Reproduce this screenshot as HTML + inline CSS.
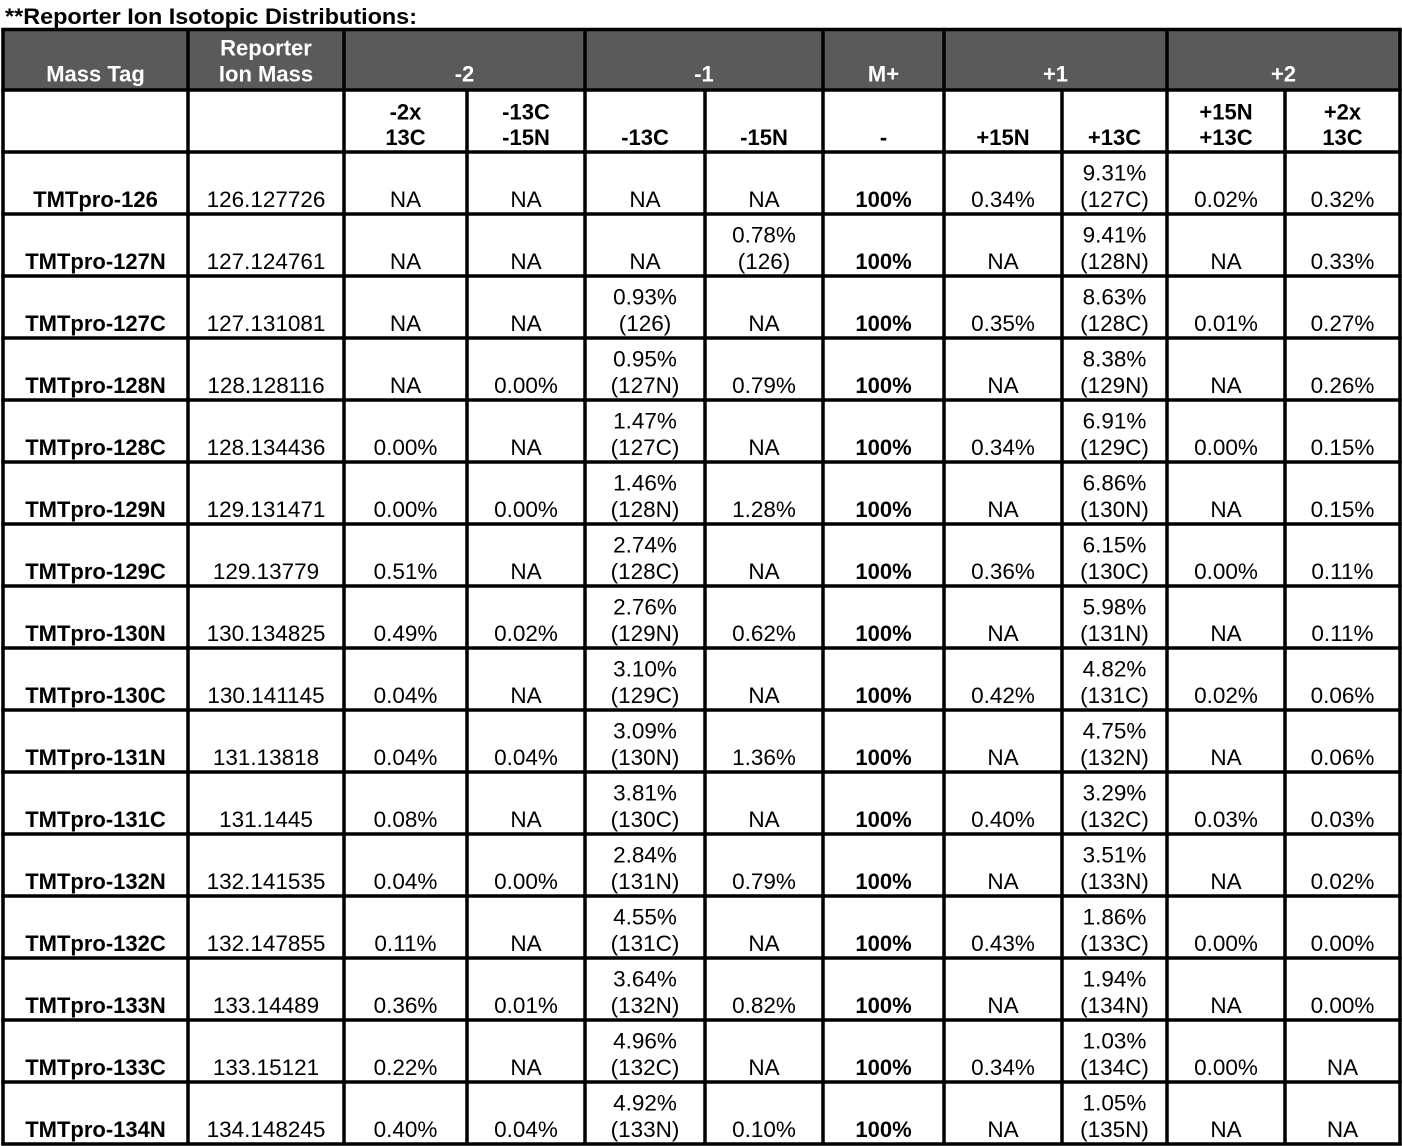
<!DOCTYPE html>
<html>
<head>
<meta charset="utf-8">
<style>
html,body{margin:0;padding:0;background:#fff;}
svg{display:block;}
svg text{font-family:"Liberation Sans",Arial,sans-serif;font-size:22.5px;text-anchor:middle;fill:#000;}
svg text.b{font-weight:bold;font-size:22px;}
svg text.h{font-weight:bold;font-size:22px;fill:#fff;}
svg text.t{font-weight:bold;font-size:22.5px;text-anchor:start;}
</style>
</head>
<body>
<svg width="1402" height="1146" viewBox="0 0 1402 1146" xmlns="http://www.w3.org/2000/svg">
<rect x="0" y="0" width="1402" height="1146" fill="#fff"/>
<text class="t" x="5" y="24" textLength="412" lengthAdjust="spacingAndGlyphs">**Reporter Ion Isotopic Distributions:</text>
<rect x="3" y="29.5" width="1397" height="60.5" fill="#5a5a5a"/>

<!-- grid lines -->
<g stroke="#000" stroke-width="3.5" fill="none">
<path d="M1.25 29.5H1401.75M1.25 90H1401.75M1.25 152H1401.75M1.25 214H1401.75M1.25 276H1401.75M1.25 338H1401.75M1.25 400H1401.75M1.25 462H1401.75M1.25 524H1401.75M1.25 586H1401.75M1.25 648H1401.75M1.25 710H1401.75M1.25 772H1401.75M1.25 834H1401.75M1.25 896H1401.75M1.25 958H1401.75M1.25 1020H1401.75M1.25 1082H1401.75M1.25 1144H1401.75"/>
<path d="M3 29.5V1145.5M188 29.5V1145.5M344 29.5V1145.5M585 29.5V1145.5M823 29.5V1145.5M944 29.5V1145.5M1167 29.5V1145.5M1400 29.5V1145.5"/>
<path d="M467 90V1145.5M705 90V1145.5M1062 90V1145.5M1285 90V1145.5"/>
</g>

<!-- header -->
<text class="h" x="95.5" y="81.5">Mass Tag</text>
<text class="h" x="266" y="55.5">Reporter</text>
<text class="h" x="266" y="81.5">Ion Mass</text>
<text class="h" x="464.5" y="81.5">-2</text>
<text class="h" x="704" y="81.5">-1</text>
<text class="h" x="883.5" y="81.5">M+</text>
<text class="h" x="1055.5" y="81.5">+1</text>
<text class="h" x="1283.5" y="81.5">+2</text>

<!-- subheader -->
<text class="b" x="405.5" y="119.5">-2x</text>
<text class="b" x="405.5" y="145">13C</text>
<text class="b" x="526" y="119.5">-13C</text>
<text class="b" x="526" y="145">-15N</text>
<text class="b" x="645" y="145">-13C</text>
<text class="b" x="764" y="145">-15N</text>
<text class="b" x="883.5" y="145">-</text>
<text class="b" x="1003" y="145">+15N</text>
<text class="b" x="1114.5" y="145">+13C</text>
<text class="b" x="1226" y="119.5">+15N</text>
<text class="b" x="1226" y="145">+13C</text>
<text class="b" x="1342.5" y="119.5">+2x</text>
<text class="b" x="1342.5" y="145">13C</text>

<!-- row 1 -->
<g transform="translate(0,0)">
<text class="b" x="95.5" y="207">TMTpro-126</text>
<text x="266" y="207">126.127726</text>
<text x="405.5" y="207">NA</text>
<text x="526" y="207">NA</text>
<text x="645" y="207">NA</text>
<text x="764" y="207">NA</text>
<text class="b" x="883.5" y="207">100%</text>
<text x="1003" y="207">0.34%</text>
<text x="1114.5" y="180.5">9.31%</text>
<text x="1114.5" y="207">(127C)</text>
<text x="1226" y="207">0.02%</text>
<text x="1342.5" y="207">0.32%</text>
</g>

<!-- row 2 -->
<g transform="translate(0,62)">
<text class="b" x="95.5" y="207">TMTpro-127N</text>
<text x="266" y="207">127.124761</text>
<text x="405.5" y="207">NA</text>
<text x="526" y="207">NA</text>
<text x="645" y="207">NA</text>
<text x="764" y="180.5">0.78%</text>
<text x="764" y="207">(126)</text>
<text class="b" x="883.5" y="207">100%</text>
<text x="1003" y="207">NA</text>
<text x="1114.5" y="180.5">9.41%</text>
<text x="1114.5" y="207">(128N)</text>
<text x="1226" y="207">NA</text>
<text x="1342.5" y="207">0.33%</text>
</g>

<!-- row 3 -->
<g transform="translate(0,124)">
<text class="b" x="95.5" y="207">TMTpro-127C</text>
<text x="266" y="207">127.131081</text>
<text x="405.5" y="207">NA</text>
<text x="526" y="207">NA</text>
<text x="645" y="180.5">0.93%</text>
<text x="645" y="207">(126)</text>
<text x="764" y="207">NA</text>
<text class="b" x="883.5" y="207">100%</text>
<text x="1003" y="207">0.35%</text>
<text x="1114.5" y="180.5">8.63%</text>
<text x="1114.5" y="207">(128C)</text>
<text x="1226" y="207">0.01%</text>
<text x="1342.5" y="207">0.27%</text>
</g>

<!-- row 4 -->
<g transform="translate(0,186)">
<text class="b" x="95.5" y="207">TMTpro-128N</text>
<text x="266" y="207">128.128116</text>
<text x="405.5" y="207">NA</text>
<text x="526" y="207">0.00%</text>
<text x="645" y="180.5">0.95%</text>
<text x="645" y="207">(127N)</text>
<text x="764" y="207">0.79%</text>
<text class="b" x="883.5" y="207">100%</text>
<text x="1003" y="207">NA</text>
<text x="1114.5" y="180.5">8.38%</text>
<text x="1114.5" y="207">(129N)</text>
<text x="1226" y="207">NA</text>
<text x="1342.5" y="207">0.26%</text>
</g>

<!-- row 5 -->
<g transform="translate(0,248)">
<text class="b" x="95.5" y="207">TMTpro-128C</text>
<text x="266" y="207">128.134436</text>
<text x="405.5" y="207">0.00%</text>
<text x="526" y="207">NA</text>
<text x="645" y="180.5">1.47%</text>
<text x="645" y="207">(127C)</text>
<text x="764" y="207">NA</text>
<text class="b" x="883.5" y="207">100%</text>
<text x="1003" y="207">0.34%</text>
<text x="1114.5" y="180.5">6.91%</text>
<text x="1114.5" y="207">(129C)</text>
<text x="1226" y="207">0.00%</text>
<text x="1342.5" y="207">0.15%</text>
</g>

<!-- row 6 -->
<g transform="translate(0,310)">
<text class="b" x="95.5" y="207">TMTpro-129N</text>
<text x="266" y="207">129.131471</text>
<text x="405.5" y="207">0.00%</text>
<text x="526" y="207">0.00%</text>
<text x="645" y="180.5">1.46%</text>
<text x="645" y="207">(128N)</text>
<text x="764" y="207">1.28%</text>
<text class="b" x="883.5" y="207">100%</text>
<text x="1003" y="207">NA</text>
<text x="1114.5" y="180.5">6.86%</text>
<text x="1114.5" y="207">(130N)</text>
<text x="1226" y="207">NA</text>
<text x="1342.5" y="207">0.15%</text>
</g>

<!-- row 7 -->
<g transform="translate(0,372)">
<text class="b" x="95.5" y="207">TMTpro-129C</text>
<text x="266" y="207">129.13779</text>
<text x="405.5" y="207">0.51%</text>
<text x="526" y="207">NA</text>
<text x="645" y="180.5">2.74%</text>
<text x="645" y="207">(128C)</text>
<text x="764" y="207">NA</text>
<text class="b" x="883.5" y="207">100%</text>
<text x="1003" y="207">0.36%</text>
<text x="1114.5" y="180.5">6.15%</text>
<text x="1114.5" y="207">(130C)</text>
<text x="1226" y="207">0.00%</text>
<text x="1342.5" y="207">0.11%</text>
</g>

<!-- row 8 -->
<g transform="translate(0,434)">
<text class="b" x="95.5" y="207">TMTpro-130N</text>
<text x="266" y="207">130.134825</text>
<text x="405.5" y="207">0.49%</text>
<text x="526" y="207">0.02%</text>
<text x="645" y="180.5">2.76%</text>
<text x="645" y="207">(129N)</text>
<text x="764" y="207">0.62%</text>
<text class="b" x="883.5" y="207">100%</text>
<text x="1003" y="207">NA</text>
<text x="1114.5" y="180.5">5.98%</text>
<text x="1114.5" y="207">(131N)</text>
<text x="1226" y="207">NA</text>
<text x="1342.5" y="207">0.11%</text>
</g>

<!-- row 9 -->
<g transform="translate(0,496)">
<text class="b" x="95.5" y="207">TMTpro-130C</text>
<text x="266" y="207">130.141145</text>
<text x="405.5" y="207">0.04%</text>
<text x="526" y="207">NA</text>
<text x="645" y="180.5">3.10%</text>
<text x="645" y="207">(129C)</text>
<text x="764" y="207">NA</text>
<text class="b" x="883.5" y="207">100%</text>
<text x="1003" y="207">0.42%</text>
<text x="1114.5" y="180.5">4.82%</text>
<text x="1114.5" y="207">(131C)</text>
<text x="1226" y="207">0.02%</text>
<text x="1342.5" y="207">0.06%</text>
</g>

<!-- row 10 -->
<g transform="translate(0,558)">
<text class="b" x="95.5" y="207">TMTpro-131N</text>
<text x="266" y="207">131.13818</text>
<text x="405.5" y="207">0.04%</text>
<text x="526" y="207">0.04%</text>
<text x="645" y="180.5">3.09%</text>
<text x="645" y="207">(130N)</text>
<text x="764" y="207">1.36%</text>
<text class="b" x="883.5" y="207">100%</text>
<text x="1003" y="207">NA</text>
<text x="1114.5" y="180.5">4.75%</text>
<text x="1114.5" y="207">(132N)</text>
<text x="1226" y="207">NA</text>
<text x="1342.5" y="207">0.06%</text>
</g>

<!-- row 11 -->
<g transform="translate(0,620)">
<text class="b" x="95.5" y="207">TMTpro-131C</text>
<text x="266" y="207">131.1445</text>
<text x="405.5" y="207">0.08%</text>
<text x="526" y="207">NA</text>
<text x="645" y="180.5">3.81%</text>
<text x="645" y="207">(130C)</text>
<text x="764" y="207">NA</text>
<text class="b" x="883.5" y="207">100%</text>
<text x="1003" y="207">0.40%</text>
<text x="1114.5" y="180.5">3.29%</text>
<text x="1114.5" y="207">(132C)</text>
<text x="1226" y="207">0.03%</text>
<text x="1342.5" y="207">0.03%</text>
</g>

<!-- row 12 -->
<g transform="translate(0,682)">
<text class="b" x="95.5" y="207">TMTpro-132N</text>
<text x="266" y="207">132.141535</text>
<text x="405.5" y="207">0.04%</text>
<text x="526" y="207">0.00%</text>
<text x="645" y="180.5">2.84%</text>
<text x="645" y="207">(131N)</text>
<text x="764" y="207">0.79%</text>
<text class="b" x="883.5" y="207">100%</text>
<text x="1003" y="207">NA</text>
<text x="1114.5" y="180.5">3.51%</text>
<text x="1114.5" y="207">(133N)</text>
<text x="1226" y="207">NA</text>
<text x="1342.5" y="207">0.02%</text>
</g>

<!-- row 13 -->
<g transform="translate(0,744)">
<text class="b" x="95.5" y="207">TMTpro-132C</text>
<text x="266" y="207">132.147855</text>
<text x="405.5" y="207">0.11%</text>
<text x="526" y="207">NA</text>
<text x="645" y="180.5">4.55%</text>
<text x="645" y="207">(131C)</text>
<text x="764" y="207">NA</text>
<text class="b" x="883.5" y="207">100%</text>
<text x="1003" y="207">0.43%</text>
<text x="1114.5" y="180.5">1.86%</text>
<text x="1114.5" y="207">(133C)</text>
<text x="1226" y="207">0.00%</text>
<text x="1342.5" y="207">0.00%</text>
</g>

<!-- row 14 -->
<g transform="translate(0,806)">
<text class="b" x="95.5" y="207">TMTpro-133N</text>
<text x="266" y="207">133.14489</text>
<text x="405.5" y="207">0.36%</text>
<text x="526" y="207">0.01%</text>
<text x="645" y="180.5">3.64%</text>
<text x="645" y="207">(132N)</text>
<text x="764" y="207">0.82%</text>
<text class="b" x="883.5" y="207">100%</text>
<text x="1003" y="207">NA</text>
<text x="1114.5" y="180.5">1.94%</text>
<text x="1114.5" y="207">(134N)</text>
<text x="1226" y="207">NA</text>
<text x="1342.5" y="207">0.00%</text>
</g>

<!-- row 15 -->
<g transform="translate(0,868)">
<text class="b" x="95.5" y="207">TMTpro-133C</text>
<text x="266" y="207">133.15121</text>
<text x="405.5" y="207">0.22%</text>
<text x="526" y="207">NA</text>
<text x="645" y="180.5">4.96%</text>
<text x="645" y="207">(132C)</text>
<text x="764" y="207">NA</text>
<text class="b" x="883.5" y="207">100%</text>
<text x="1003" y="207">0.34%</text>
<text x="1114.5" y="180.5">1.03%</text>
<text x="1114.5" y="207">(134C)</text>
<text x="1226" y="207">0.00%</text>
<text x="1342.5" y="207">NA</text>
</g>

<!-- row 16 -->
<g transform="translate(0,930)">
<text class="b" x="95.5" y="207">TMTpro-134N</text>
<text x="266" y="207">134.148245</text>
<text x="405.5" y="207">0.40%</text>
<text x="526" y="207">0.04%</text>
<text x="645" y="180.5">4.92%</text>
<text x="645" y="207">(133N)</text>
<text x="764" y="207">0.10%</text>
<text class="b" x="883.5" y="207">100%</text>
<text x="1003" y="207">NA</text>
<text x="1114.5" y="180.5">1.05%</text>
<text x="1114.5" y="207">(135N)</text>
<text x="1226" y="207">NA</text>
<text x="1342.5" y="207">NA</text>
</g>
</svg>
</body>
</html>
